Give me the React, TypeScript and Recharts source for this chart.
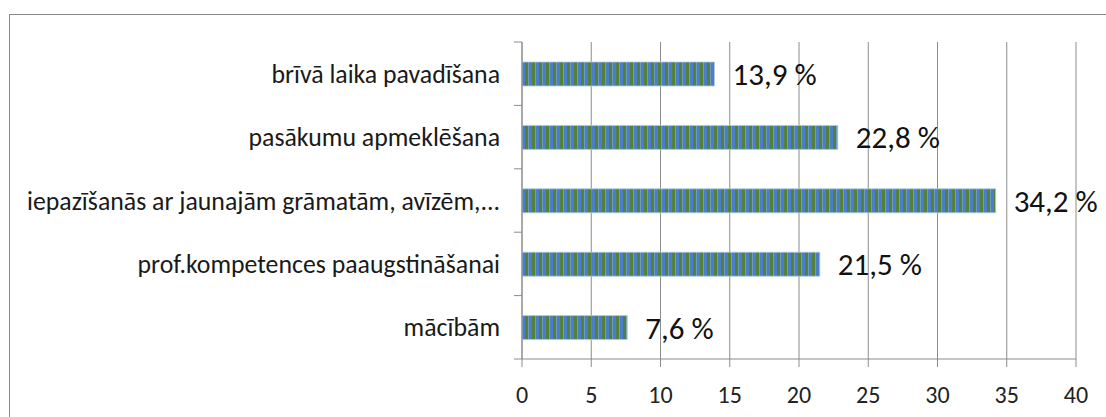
import { Bar, BarChart, CartesianGrid, LabelList, XAxis, YAxis, usePlotArea } from "recharts";

const categories = [
  "brīvā laika pavadīšana",
  "pasākumu apmeklēšana",
  "iepazīšanās ar jaunajām grāmatām, avīzēm,...",
  "prof.kompetences paaugstināšanai",
  "mācībām",
];
const values = [13.9, 22.8, 34.2, 21.5, 7.6];
const xTicks = [0, 5, 10, 15, 20, 25, 30, 35, 40];

const data = categories.map((name, i) => ({ name, value: values[i] }));

const FONT = "Carlito, Calibri, Lato, sans-serif";
const GRID = "#8c8c8c";

// category axis in the original has its ticks on the band boundaries, not the centres
function BoundaryTicks() {
  const area = usePlotArea();
  if (!area) return null;
  const step = area.height / categories.length;
  return (
    <g>
      {Array.from({ length: categories.length + 1 }, (_, i) => (
        <line
          key={i}
          x1={area.x - 8}
          x2={area.x}
          y1={area.y + i * step}
          y2={area.y + i * step}
          stroke={GRID}
          strokeWidth={1}
        />
      ))}
    </g>
  );
}

const fmt = (v: number) => v.toFixed(1).replace(".", ",") + " %";

export default function App() {
  return (
    <div style={{ position: "relative", width: 1106, height: 417, overflow: "hidden", background: "#fff" }}>
      <style>{"body{margin:0}"}</style>
      <div
        style={{
          position: "absolute",
          left: 9,
          top: 14,
          width: 1120,
          height: 430,
          border: "1px solid #8a8a8a",
        }}
      />
      <div style={{ position: "absolute", left: 0, top: 0 }}>
        <BarChart
          width={1106}
          height={417}
          data={data}
          layout="vertical"
          margin={{ top: 42, right: 30, bottom: 0, left: 0 }}
          barCategoryGap={0}
        >
          <defs>
            <pattern id="stripes" patternUnits="userSpaceOnUse" width={7} height={10}>
              <rect x={0} y={0} width={3.3} height={10} fill="#548235" />
              <rect x={3.3} y={0} width={3.7} height={10} fill="#4a7ecb" />
            </pattern>
          </defs>
          <CartesianGrid horizontal={false} stroke={GRID} strokeWidth={1} />
          <XAxis
            type="number"
            domain={[0, 40]}
            ticks={xTicks}
            interval={0}
            height={58}
            axisLine={{ stroke: GRID }}
            tickLine={{ stroke: GRID }}
            tickSize={8}
            tickMargin={19}
            tick={{ fill: "#222", fontSize: 24, fontFamily: FONT }}
          />
          <YAxis
            type="category"
            dataKey="name"
            width={522}
            axisLine={{ stroke: GRID }}
            tickLine={false}
            tickSize={0}
            tickMargin={22}
            interval={0}
            tick={{ fill: "#1a1a1a", fontSize: 25.8, fontFamily: FONT }}
          />
          <BoundaryTicks />
          <Bar dataKey="value" fill="url(#stripes)" barSize={24} stroke="#b4c9ea" strokeWidth={0.8} isAnimationActive={false}>
            <LabelList
              dataKey="value"
              position="right"
              offset={18}
              formatter={(v: any) => fmt(Number(v))}
              style={{ fill: "#111", fontSize: 31, fontFamily: FONT }}
            />
          </Bar>
        </BarChart>
      </div>
    </div>
  );
}
